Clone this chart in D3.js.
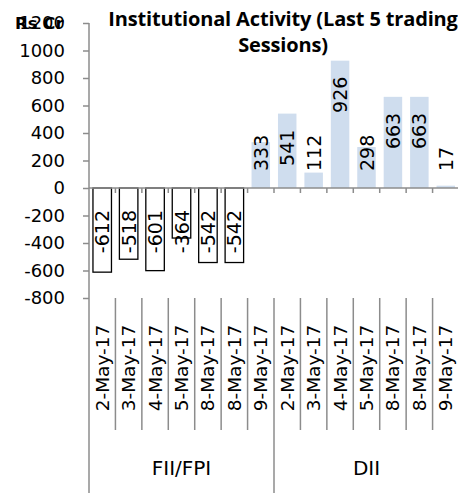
<!DOCTYPE html>
<html>
<head>
<meta charset="utf-8">
<script src="https://cdn.jsdelivr.net/npm/d3@7"></script>
<style>
  html, body { margin: 0; padding: 0; background: #ffffff; overflow: hidden; }
  svg { display: block; }
</style>
</head>
<body>
<svg id="chart" width="458" height="493"></svg>
<script>
// ---------------- data ----------------
const dates = ["2-May-17", "3-May-17", "4-May-17", "5-May-17", "8-May-17", "8-May-17", "9-May-17"];
const groups = ["FII/FPI", "DII"];
const values = [-612, -518, -601, -364, -542, -542, 333, 541, 112, 926, 298, 663, 663, 17];
const yTicks = [-800, -600, -400, -200, 0, 200, 400, 600, 800, 1000, 1200];
const titleLines = ["Institutional Activity (Last 5 trading", "Sessions)"];
const unitLabel = "Rs Cr";

// flat category list (group, date)
const cats = [];
groups.forEach(g => dates.forEach(d => cats.push({ group: g, date: d })));

// ---------------- layout ----------------
const plot = { left: 89, right: 459, top: 23, bottom: 298 };
const catLabelBottom = 430;
const axisBottom = 493;

const svg = d3.select("#chart");

const x = d3.scaleBand()
  .domain(d3.range(cats.length))
  .range([plot.left, plot.right])
  .paddingInner(0.3)
  .paddingOuter(0.15);
const step = x.step();
const xEdge = i => plot.left + i * step;

const y = d3.scaleLinear().domain([-800, 1200]).range([plot.bottom, plot.top]);
const y0 = y(0);

const axisColor = "#8c8c8c";
const labelFont = "'DejaVu Sans', sans-serif";
const fmt = d => String(d);

// ---------------- bars ----------------
svg.append("g").selectAll("rect")
  .data(values)
  .join("rect")
  .attr("x", (d, i) => x(i))
  .attr("width", x.bandwidth())
  .attr("y", d => d >= 0 ? y(d) : y0)
  .attr("height", d => Math.abs(y(d) - y0))
  .attr("fill", d => d >= 0 ? "#cfddee" : "#ffffff")
  .attr("stroke", d => d >= 0 ? "none" : "#000000")
  .attr("stroke-width", 1.3);

// ---------------- y axis ----------------
const yAxis = d3.axisLeft(y).tickValues(yTicks).tickSize(6).tickPadding(18)
  .tickFormat(fmt);
const gy = svg.append("g").attr("transform", `translate(${plot.left},0)`).call(yAxis);
gy.select(".domain").remove();
gy.selectAll(".tick line").attr("stroke", axisColor).attr("stroke-width", 1.5);
gy.selectAll(".tick text")
  .attr("font-family", labelFont).attr("font-size", 18).attr("fill", "#000");

// y axis line extends down through category label area
svg.append("line")
  .attr("x1", plot.left).attr("x2", plot.left)
  .attr("y1", plot.top).attr("y2", axisBottom)
  .attr("stroke", axisColor).attr("stroke-width", 1.5);

// zero line (category axis) with tick marks
svg.append("line")
  .attr("x1", plot.left).attr("x2", plot.right)
  .attr("y1", y0).attr("y2", y0)
  .attr("stroke", axisColor).attr("stroke-width", 1.5);
svg.append("g").selectAll("line")
  .data(d3.range(1, cats.length + 1))
  .join("line")
  .attr("x1", i => xEdge(i)).attr("x2", i => xEdge(i))
  .attr("y1", y0).attr("y2", y0 + 5)
  .attr("stroke", axisColor).attr("stroke-width", 1.5);

// category separators below plot
svg.append("g").selectAll("line")
  .data(d3.range(1, cats.length + 1))
  .join("line")
  .attr("x1", i => xEdge(i)).attr("x2", i => xEdge(i))
  .attr("y1", plot.bottom)
  .attr("y2", i => (i % dates.length === 0) ? axisBottom : catLabelBottom)
  .attr("stroke", axisColor).attr("stroke-width", 1.5);

// date labels
svg.append("g").selectAll("text")
  .data(cats)
  .join("text")
  .attr("transform", (d, i) => `translate(${x(i) + x.bandwidth() / 2 + 6.5},${(plot.bottom + catLabelBottom) / 2 + 4}) rotate(-90)`)
  .attr("text-anchor", "middle")
  .attr("font-family", labelFont)
  .attr("font-size", 18.5)
  .attr("fill", "#000")
  .text(d => d.date);

// group labels
svg.append("g").selectAll("text")
  .data(groups)
  .join("text")
  .attr("x", (g, gi) => (xEdge(gi * dates.length) + xEdge((gi + 1) * dates.length)) / 2)
  .attr("y", 475)
  .attr("text-anchor", "middle")
  .attr("font-family", labelFont)
  .attr("font-size", 20)
  .attr("fill", "#000")
  .text(g => g);

// ---------------- data labels ----------------
const lbl = svg.append("g").selectAll("text")
  .data(values)
  .join("text")
  .attr("font-family", labelFont)
  .attr("font-size", 19)
  .attr("fill", "#000")
  .text(fmt);

lbl.each(function (d, i) {
  const t = d3.select(this);
  const len = this.getComputedTextLength();
  const cx = x(i) + x.bandwidth() / 2 + 7;
  let yStart;
  if (d < 0) {
    // text reads upward; its end sits just below the zero line
    yStart = y0 + 22 + len;
  } else {
    yStart = Math.min(y(d) + 16 + len, y0 - 17);
  }
  t.attr("transform", `translate(${cx},${yStart}) rotate(-90)`)
    .attr("text-anchor", "start");
});

// ---------------- title & unit ----------------
const title = svg.append("text")
  .attr("text-anchor", "middle")
  .attr("font-family", "'Open Sans', sans-serif")
  .attr("font-weight", "bold")
  .attr("font-size", 20)
  .attr("letter-spacing", -0.15)
  .attr("fill", "#000");
title.selectAll("tspan")
  .data(titleLines)
  .join("tspan")
  .attr("x", 283)
  .attr("y", (d, i) => 26 + i * 26)
  .text(d => d);

svg.append("text")
  .attr("x", 15).attr("y", 29)
  .attr("font-family", labelFont)
  .attr("font-weight", "bold")
  .attr("font-size", 16.5)
  .attr("fill", "#000")
  .text(unitLabel);
</script>
</body>
</html>
